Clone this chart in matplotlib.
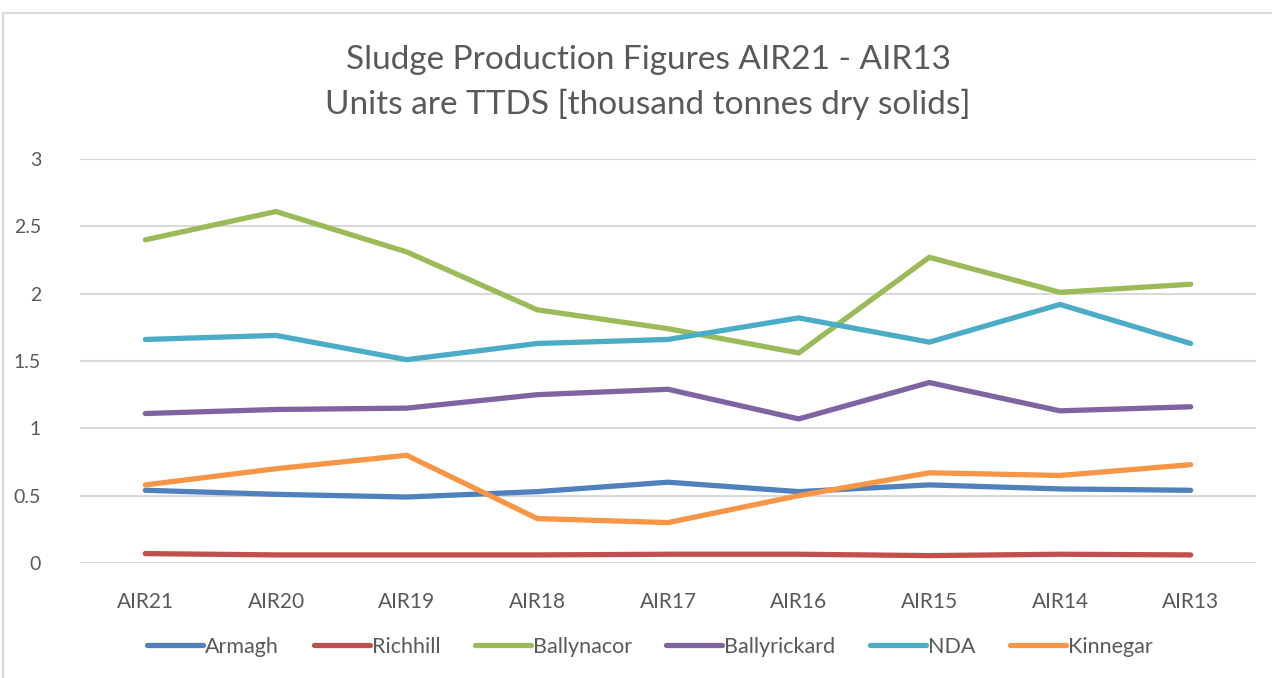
import matplotlib.pyplot as plt
from matplotlib.patches import Rectangle

years = ['AIR21', 'AIR20', 'AIR19', 'AIR18', 'AIR17', 'AIR16', 'AIR15', 'AIR14', 'AIR13']
armagh = [0.54, 0.51, 0.49, 0.53, 0.60, 0.53, 0.58, 0.55, 0.54]
richhill = [0.07, 0.06, 0.06, 0.06, 0.065, 0.065, 0.055, 0.065, 0.06]
ballynacor = [2.40, 2.61, 2.31, 1.88, 1.74, 1.56, 2.27, 2.01, 2.07]
ballyrickard = [1.11, 1.14, 1.15, 1.25, 1.29, 1.07, 1.34, 1.13, 1.16]
nda = [1.66, 1.69, 1.51, 1.63, 1.66, 1.82, 1.64, 1.92, 1.63]
kinnegar = [0.58, 0.70, 0.80, 0.33, 0.30, 0.50, 0.67, 0.65, 0.73]

series = [
    ('Armagh', armagh, '#4F81BD'),
    ('Richhill', richhill, '#C0504D'),
    ('Ballynacor', ballynacor, '#9BBB59'),
    ('Ballyrickard', ballyrickard, '#8064A2'),
    ('NDA', nda, '#4BACC6'),
    ('Kinnegar', kinnegar, '#F79646'),
]

plt.rcParams['font.family'] = ['Lato', 'DejaVu Sans']
text_col = '#595959'

fig = plt.figure(figsize=(12.72, 6.78), dpi=100)
# light border of the chart box
fig.patches.append(Rectangle((3 / 1272, -0.1), 1.2, 1 - 13 / 678 + 0.1,
                             transform=fig.transFigure, fill=False,
                             edgecolor='#D9D9D9', linewidth=1.5))

ax = fig.add_axes([80 / 1272, 1 - 563 / 678, (1256 - 80) / 1272, (563 - 159) / 678])
x = range(len(years))
for name, vals, col in series:
    ax.plot(x, vals, color=col, linewidth=3.8, label=name, solid_capstyle='round')

ax.set_xlim(-0.5, len(years) - 0.5)
ax.set_ylim(0, 3)
ax.set_yticks([0, 0.5, 1, 1.5, 2, 2.5, 3])
ax.set_yticklabels(['0', '0.5', '1', '1.5', '2', '2.5', '3'])
ax.set_xticks(list(x))
ax.set_xticklabels(years)
ax.tick_params(length=0, labelsize=15, colors=text_col, pad=21)
ax.tick_params(axis='y', labelsize=14, pad=28)
ax.grid(axis='y', color='#D9D9D9', linewidth=1.5)
ax.set_axisbelow(True)
for s in ax.spines.values():
    s.set_visible(False)

fig.text(0.5095, 1 - 60 / 678, 'Sludge Production Figures AIR21 - AIR13',
         ha='center', va='center', fontsize=24, color=text_col)
fig.text(0.5095, 1 - 104 / 678, 'Units are TTDS [thousand tonnes dry solids]',
         ha='center', va='center', fontsize=24, color=text_col)

fig.legend(loc='center', bbox_to_anchor=(0.511, 1 - 647 / 678), ncol=6,
           frameon=False, fontsize=15.5, handlelength=2.6, handletextpad=0.1,
           columnspacing=1.6, labelcolor=text_col)

fig.savefig('out.png', dpi=100)
